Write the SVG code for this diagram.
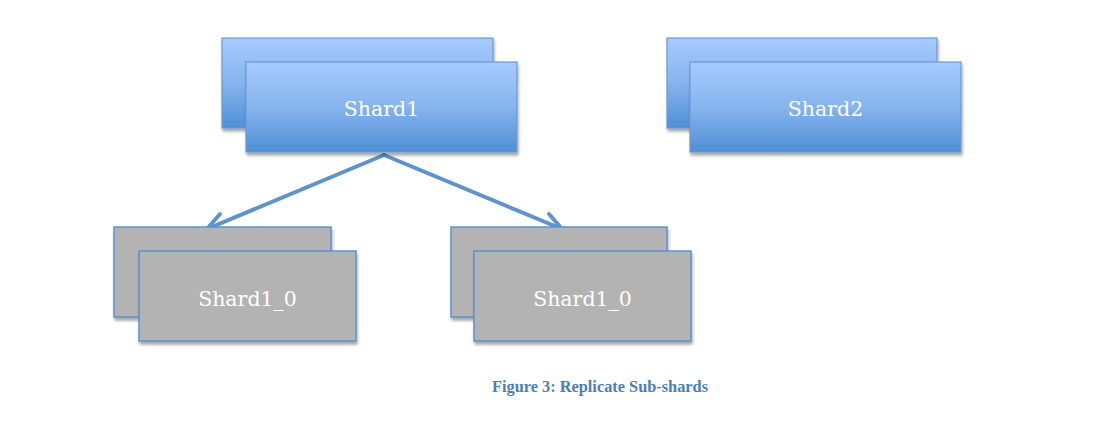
<svg xmlns="http://www.w3.org/2000/svg" width="1096" height="421" viewBox="0 0 1096 421">
<defs>
<linearGradient id="blue" x1="0" y1="0" x2="0" y2="1">
<stop offset="0" stop-color="#a6cbff"/>
<stop offset="0.5" stop-color="#86b4ee"/>
<stop offset="1" stop-color="#4f8fd6"/>
</linearGradient>
<filter id="sh" x="-10%" y="-10%" width="125%" height="130%">
<feGaussianBlur in="SourceAlpha" stdDeviation="1.5"/>
<feOffset dx="1" dy="2.5" result="b"/>
<feComponentTransfer><feFuncA type="linear" slope="0.35"/></feComponentTransfer>
<feMerge><feMergeNode/><feMergeNode in="SourceGraphic"/></feMerge>
</filter>
</defs>
<style>
.b{fill:url(#blue);stroke:#6b9bd2;stroke-width:1.2;filter:url(#sh)}
.g{fill:#b3b3b3;stroke:#5e92cc;stroke-width:1.5;filter:url(#sh)}
.t{font-family:"DejaVu Serif",serif;font-size:20.5px;fill:#ffffff;text-anchor:middle}
.c{stroke:#5f93cc;stroke-width:4;fill:none;stroke-linecap:round;stroke-linejoin:round}
</style>
<rect width="1096" height="421" fill="#ffffff"/>
<g id="connectors">
<path class="c" d="M384,155 L207,229"/>
<path class="c" d="M207,229 L220,214 M207,229 L227,230"/>
<path class="c" d="M384,155 L562,229"/>
<path class="c" d="M562,229 L542,230 M562,229 L549,214"/>
</g>
<g id="shard1">
<rect class="b" x="222" y="38" width="271" height="90"/>
<rect class="b" x="246" y="62" width="271" height="90"/>
<text class="t" x="381.5" y="116">Shard1</text>
</g>
<g id="shard2">
<rect class="b" x="667" y="38" width="270" height="90"/>
<rect class="b" x="690" y="62" width="271" height="90"/>
<text class="t" x="825.5" y="116">Shard2</text>
</g>
<g id="shard1_0_a">
<rect class="g" x="114" y="227" width="217" height="90"/>
<rect class="g" x="139" y="251" width="217" height="90"/>
<text class="t" x="247.5" y="305.5">Shard1_0</text>
</g>
<g id="shard1_0_b">
<rect class="g" x="451" y="227" width="216" height="90"/>
<rect class="g" x="474" y="251" width="217" height="90"/>
<text class="t" x="582.5" y="305.5">Shard1_0</text>
</g>
<g id="caption">
<text x="600" y="392" font-family="Liberation Serif, serif" font-weight="bold" font-size="17" fill="#4a7ebb" text-anchor="middle" textLength="216" lengthAdjust="spacingAndGlyphs">Figure 3: Replicate Sub-shards</text>
</g>
</svg>
